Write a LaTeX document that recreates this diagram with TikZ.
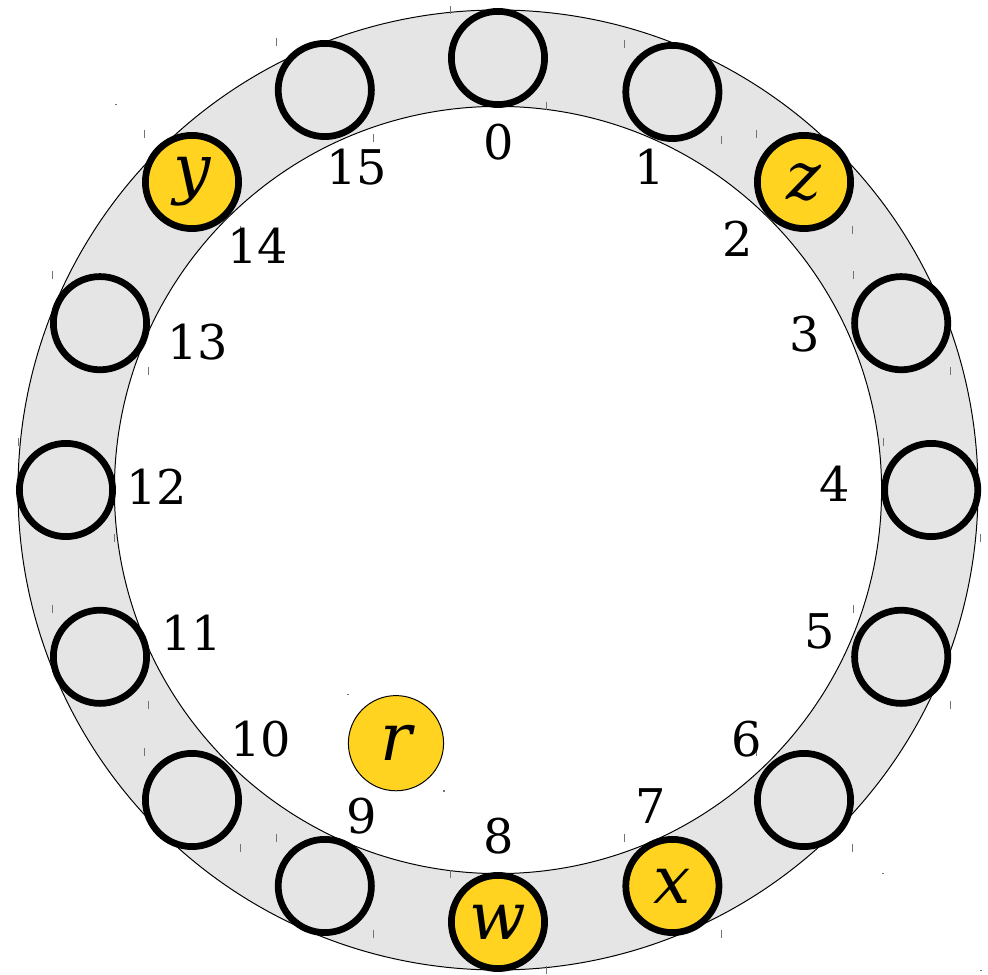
\documentclass[tikz,border=0pt]{standalone}
\usepackage{fontspec}
\setmainfont{DejaVu Serif}
\definecolor{ringgray}{HTML}{E5E5E5}
\definecolor{slotyellow}{HTML}{FFD320}
\tikzset{
	slot/.style={circle, draw=black, line width=4.8pt, fill=ringgray, minimum size=2.33cm, inner sep=0pt},
	taken/.style={slot, fill=slotyellow},
	idx/.style={black, inner sep=0pt, font=\fontsize{34}{34}\selectfont},
	var/.style={font=\fontsize{47}{47}\selectfont\itshape},
	corner/.style={draw=black!55, line width=0.6pt},
	speck/.style={fill=black!55},
}
\begin{document}
\begin{tikzpicture}
		\useasboundingbox (-12.45,-12.125) rectangle (12.25,12.25);
		% ring
		\fill[ringgray, even odd rule] (0.00,0.00) circle (12.00) (0.00,0.00) circle (9.59);
		\draw[draw=black, line width=0.7pt] (0.00,0.00) circle (12.00);
		\draw[draw=black, line width=0.7pt] (0.00,0.00) circle (9.59);
		\fill[speck] (-9.58,9.63) rectangle ++(0.05,0.03);
		\fill[speck] (9.60,-9.60) rectangle ++(0.05,0.03);
		\fill[speck] (12.05,-12.03) rectangle ++(0.05,0.03);
		% slots
		\node[slot] (n0) at (0.00,10.80) {};
		\node[slot] (n1) at (4.36,9.95) {};
		\node[taken, var] (n2) at (7.65,7.70) {z};
		\node[slot] (n3) at (10.08,4.17) {};
		\node[slot] (n4) at (10.83,0.00) {};
		\node[slot] (n5) at (10.08,-4.17) {};
		\node[slot] (n6) at (7.65,-7.75) {};
		\node[taken, var] (n7) at (4.36,-9.90) {x};
		\node[taken, var] (n8) at (0.00,-10.80) {w};
		\node[slot] (n9) at (-4.33,-9.90) {};
		\node[slot] (n10) at (-7.65,-7.75) {};
		\node[slot] (n11) at (-9.95,-4.17) {};
		\node[slot] (n12) at (-10.80,0.00) {};
		\node[slot] (n13) at (-9.95,4.17) {};
		\node[taken, var] (n14) at (-7.65,7.70) {y};
		\node[slot] (n15) at (-4.33,10.00) {};
		\foreach \s in {n0,n1,n2,n3,n4,n5,n6,n7,n8,n9,n10,n11,n12,n13,n14,n15} {
			\draw[corner] ([shift={(-1.20,1.30)}]\s.center) -- ([shift={(-1.20,1.10)}]\s.center);
			\draw[corner] ([shift={(1.22,-1.10)}]\s.center) -- ([shift={(1.22,-1.30)}]\s.center);
		}
		% indices
		\node[idx] (i0) at (0.03,8.70) {0};
		\node[idx] (i1) at (3.80,8.08) {1};
		\node[idx] (i2) at (6.00,6.28) {2};
		\node[idx] (i3) at (7.68,3.90) {3};
		\node[idx] (i4) at (8.43,0.15) {4};
		\node[idx] (i5) at (8.05,-3.53) {5};
		\node[idx] (i6) at (6.23,-6.23) {6};
		\node[idx] (i7) at (3.83,-7.90) {7};
		\node[idx] (i8) at (0.03,-8.65) {8};
		\node[idx] (i9) at (-3.40,-8.15) {9};
		\node[idx] (i10) at (-5.93,-6.23) {10};
		\node[idx] (i11) at (-7.65,-3.58) {11};
		\node[idx] (i12) at (-8.53,0.08) {12};
		\node[idx] (i13) at (-7.50,3.70) {13};
		\node[idx] (i14) at (-6.00,6.10) {14};
		\node[idx] (i15) at (-3.53,8.08) {15};
		% the extra one
		\node[circle, draw=black, line width=0.7pt, fill=slotyellow, minimum size=2.38cm, inner sep=0pt, var] (r) at (-2.55,-6.33) {r};
		\fill[speck] ([shift={(-1.22,1.20)}]r.center) rectangle ++(0.04,0.04);
		\fill[speck] ([shift={(1.18,-1.22)}]r.center) rectangle ++(0.04,0.04);
	\end{tikzpicture}
\end{document}
